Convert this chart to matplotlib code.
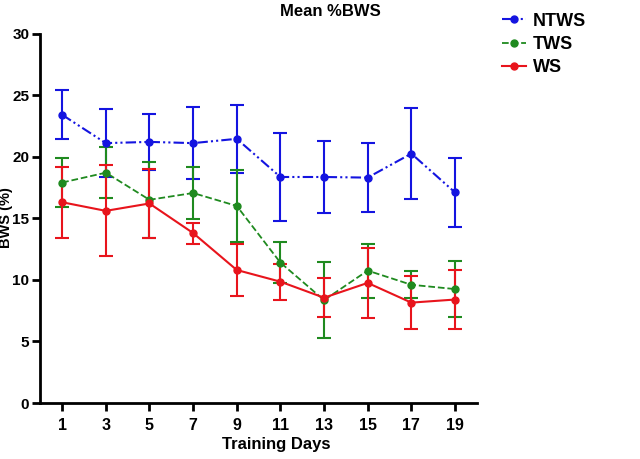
import matplotlib
matplotlib.use("Agg")
import matplotlib.pyplot as plt

plt.rcParams['font.family'] = ['Liberation Sans', 'DejaVu Sans']
plt.rcParams['font.weight'] = 'bold'

days = [1, 3, 5, 7, 9, 11, 13, 15, 17, 19]

ntws_mean = [23.4, 21.1, 21.2, 21.1, 21.45, 18.35, 18.35, 18.3, 20.25, 17.1]
ntws_err = [2.0, 2.75, 2.3, 2.95, 2.75, 3.6, 2.9, 2.8, 3.7, 2.8]

tws_mean = [17.9, 18.7, 16.5, 17.05, 16.0, 11.4, 8.35, 10.75, 9.6, 9.25]
tws_err = [2.0, 2.05, 3.1, 2.1, 2.95, 1.65, 3.1, 2.2, 1.1, 2.3]

ws_mean = [16.3, 15.6, 16.2, 13.8, 10.8, 9.85, 8.55, 9.75, 8.15, 8.4]
ws_err = [2.9, 3.7, 2.8, 0.85, 2.15, 1.45, 1.6, 2.85, 2.15, 2.4]

fig = plt.figure(figsize=(6.4, 4.59), dpi=100)
ax = fig.add_axes([0.063, 0.122, 0.682, 0.805])

blue = '#1414e0'
green = '#1f8a1f'
red = '#e8141c'

l1 = ax.errorbar(days, ntws_mean, yerr=ntws_err, color=blue, marker='o', markersize=5,
                 lw=1.5, elinewidth=1.5, capsize=5, capthick=1.5,
                 dashes=[5, 1.5, 1, 1.5, 1, 1.5], label='NTWS')
l2 = ax.errorbar(days, tws_mean, yerr=tws_err, color=green, marker='o', markersize=5,
                 lw=1.3, elinewidth=1.5, capsize=5, capthick=1.5,
                 linestyle='--', label='TWS')
l3 = ax.errorbar(days, ws_mean, yerr=ws_err, color=red, marker='o', markersize=5,
                 lw=1.5, elinewidth=1.5, capsize=5, capthick=1.5,
                 linestyle='-', label='WS')

ax.set_xlim(0, 20)
ax.set_ylim(0, 30)
ax.set_xticks(days)
ax.set_yticks([0, 5, 10, 15, 20, 25, 30])
for s in ['top', 'right']:
    ax.spines[s].set_visible(False)
for s in ['left', 'bottom']:
    ax.spines[s].set_linewidth(2)
ax.tick_params(direction='out', length=6, width=2, labelsize=11.5)
ax.tick_params(axis='y', pad=2, labelsize=11)
ax.tick_params(axis='x', pad=5)

fig.text(276 / 640, 1 - 444 / 459, 'Training Days', ha='center', va='center',
         fontsize=12, fontweight='bold')
fig.text(6 / 640, 1 - 218 / 459, 'BWS (%)', ha='center', va='center', rotation=90,
         fontsize=10.5, fontweight='bold')
fig.text(330 / 640, 1 - 12 / 459, 'Mean %BWS', ha='center', va='center',
         fontsize=12, fontweight='bold')

fig.legend(handles=[l1.lines[0], l2.lines[0], l3.lines[0]], labels=['NTWS', 'TWS', 'WS'],
           loc='upper left', bbox_to_anchor=(0.765, 1.0),
           frameon=False, fontsize=13, handlelength=1.3, handletextpad=0.4,
           labelspacing=0.35, borderaxespad=0.3)

fig.savefig('out.png', dpi=100)
